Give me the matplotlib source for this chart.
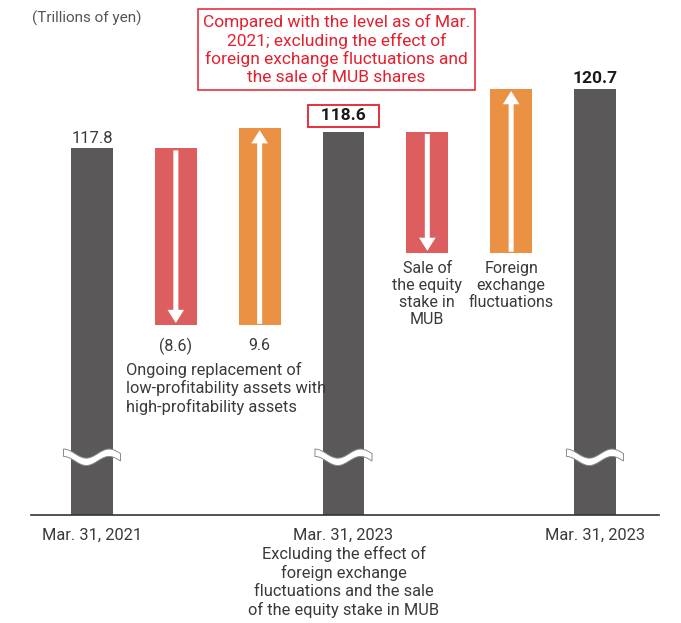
import matplotlib

matplotlib.use("Agg")
import matplotlib.pyplot as plt
import numpy as np
from matplotlib.patches import ArrowStyle, FancyArrowPatch, Polygon

plt.rcParams["font.family"] = ["Roboto", "DejaVu Sans"]

# Trillions of yen
total_values = [117.8, 118.6, 120.7]
total_labels = ["117.8", "118.6", "120.7"]
decrease_values = [-8.6, -5.9]
increase_values = [9.6, 8.0]
decrease_labels = ["(8.6)", None]
increase_labels = ["9.6", None]
tick_labels = [
    "Mar. 31, 2021",
    "Mar. 31, 2023\nExcluding the effect of\nforeign exchange\nfluctuations and the sale\nof the equity stake in MUB",
    "Mar. 31, 2023",
]
note_text = ("Compared with the level as of Mar.\n2021; excluding the effect of\n"
             "foreign exchange fluctuations and\nthe sale of MUB shares")

DARK = "#5a5858"
RED = "#dd5e5e"
ORANGE = "#ea9143"
NOTE_RED = "#e5202e"
TEXT = "#3a3a3a"

total_x = [0, 3, 6]
decrease_x = [1, 4]
increase_x = [2, 5]
BAR_W = 0.5

fig = plt.figure(figsize=(6.81, 6.23), dpi=100)
ax = fig.add_axes([0.0455, 0.1734, 0.9222, 0.8266])
ax.set_xlim(-0.728, 6.764)
ax.set_ylim(100, 125)

# level bars (axis is broken, bars start at zero)
ax.bar(total_x, total_values, width=BAR_W, color=DARK, zorder=2)

arrow_style = ArrowStyle.Simple(head_length=9.5, head_width=12, tail_width=3.6)
for i in range(len(decrease_values)):
    level = total_values[i]
    base = level + decrease_values[i]
    ax.bar(decrease_x[i], -decrease_values[i], bottom=base, width=BAR_W, color=RED, zorder=2)
    ax.bar(increase_x[i], increase_values[i], bottom=base, width=BAR_W, color=ORANGE, zorder=2)
    ax.add_patch(FancyArrowPatch((decrease_x[i], level - 0.1), (decrease_x[i], base + 0.12),
                                 arrowstyle=arrow_style, color="white", lw=0,
                                 shrinkA=0, shrinkB=0, mutation_scale=1, zorder=3))
    ax.add_patch(FancyArrowPatch((increase_x[i], base + 0.08), (increase_x[i], base + increase_values[i] - 0.12),
                                 arrowstyle=arrow_style, color="white", lw=0,
                                 shrinkA=0, shrinkB=0, mutation_scale=1, zorder=3))
    if decrease_labels[i]:
        ax.annotate(decrease_labels[i], (decrease_x[i], base), xytext=(0, -9), textcoords="offset points",
                    ha="center", va="top", fontsize=11.5, color=TEXT)
    if increase_labels[i]:
        ax.annotate(increase_labels[i], (increase_x[i], base), xytext=(0, -9), textcoords="offset points",
                    ha="center", va="top", fontsize=11.5, color=TEXT)

# wavy break marks
t = np.linspace(0, 1, 80)
wave = 0.22 * np.sin(2 * np.pi * 1.25 * t + np.pi / 2)
for x in total_x:
    xs = x - 0.34 + 0.68 * t
    ys = 102.8 + wave
    pts = np.concatenate([np.column_stack([xs, ys + 0.18]), np.column_stack([xs[::-1], ys[::-1] - 0.18])])
    ax.add_patch(Polygon(pts, closed=True, facecolor="white", edgecolor="#8a8a8a", lw=0.7, zorder=4))

# value labels
ax.annotate(total_labels[0], (total_x[0], total_values[0]), xytext=(0, 1.5), textcoords="offset points",
            ha="center", va="bottom", fontsize=12, color=TEXT)
ax.annotate(total_labels[2], (total_x[2], total_values[2]), xytext=(0, 1.5), textcoords="offset points",
            ha="center", va="bottom", fontsize=12.5, fontweight="bold", color="#1a1a1a")
ax.annotate("  " + total_labels[1] + "  ", (total_x[1], total_values[1]), xytext=(0, 6),
            textcoords="offset points", ha="center", va="bottom", fontsize=12.5,
            fontweight="bold", color="#1a1a1a",
            bbox=dict(boxstyle="square,pad=0.22", fc="white", ec=NOTE_RED, lw=1.3))

ax.annotate(note_text, xy=(total_x[1], 120.78), xytext=(2.917, 122.6),
            ha="center", va="center", fontsize=12.5, color=NOTE_RED, linespacing=1.2,
            bbox=dict(boxstyle="square,pad=0.3", fc="white", ec=NOTE_RED, lw=1.1),
            arrowprops=dict(arrowstyle="-", color=NOTE_RED, lw=1.1, shrinkA=0, shrinkB=0,
                            relpos=(0.523, 0)))

# descriptions
ax.annotate("Ongoing replacement of\nlow-profitability assets with\nhigh-profitability assets",
            (decrease_x[0], total_values[0] + decrease_values[0]), xytext=(-36, -26),
            textcoords="offset points", ha="left", va="top", fontsize=11.8, color=TEXT, linespacing=1.2)
ax.annotate("Sale of\nthe equity\nstake in\nMUB", (decrease_x[1], total_values[1] + decrease_values[1]),
            xytext=(0, -5.5), textcoords="offset points", ha="center", va="top",
            fontsize=11.5, color=TEXT, linespacing=1.18)
ax.annotate("Foreign\nexchange\nfluctuations", (increase_x[1], total_values[1] + decrease_values[1]),
            xytext=(0, -5.5), textcoords="offset points", ha="center", va="top",
            fontsize=11.5, color=TEXT, linespacing=1.18)

fig.text(0.047, 0.971, "(Trillions of yen)", fontsize=11, color="#555555", va="center")

ax.set_xticks(total_x)
ax.set_xticklabels(tick_labels, fontsize=11.8, color=TEXT, linespacing=1.24)
ax.tick_params(axis="x", length=0, pad=9)
ax.set_yticks([])
for side in ("top", "right", "left"):
    ax.spines[side].set_visible(False)
ax.spines["bottom"].set_color("#333333")
ax.spines["bottom"].set_linewidth(1.2)

fig.savefig("out.png", dpi=100)
